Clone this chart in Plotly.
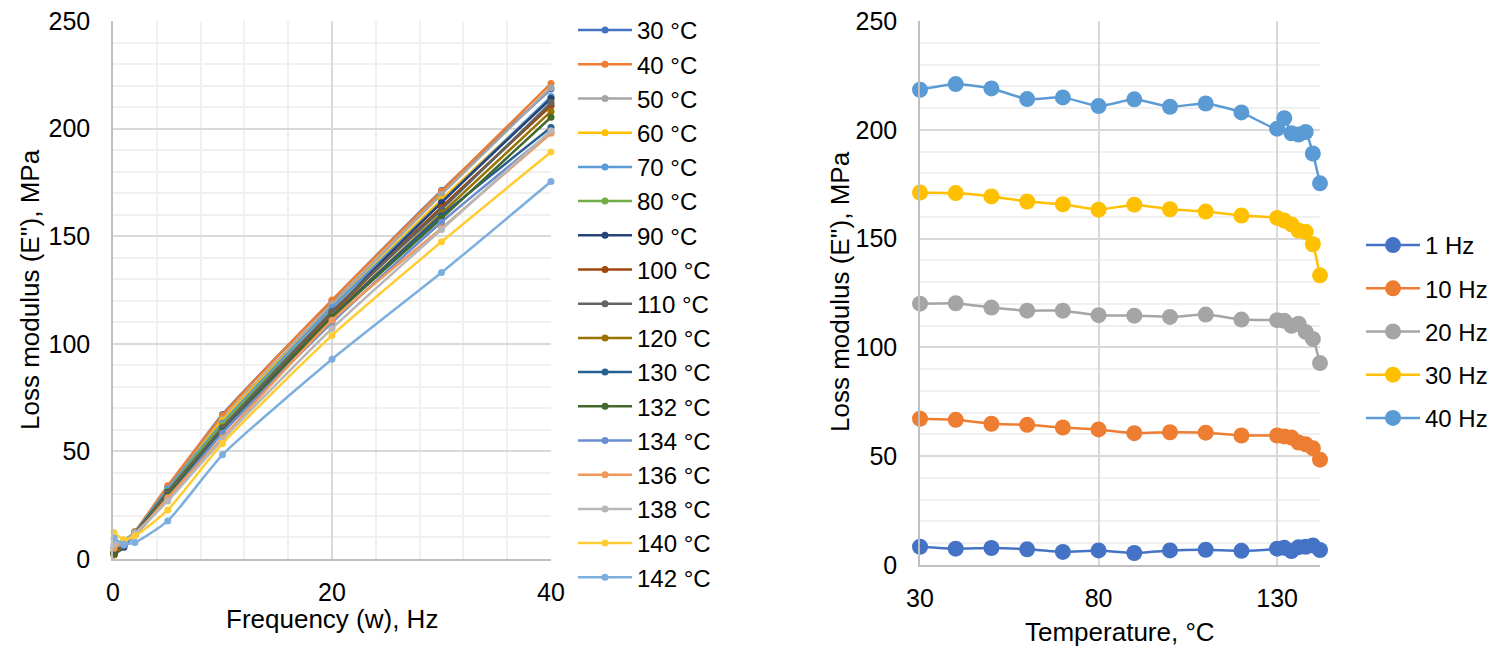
import plotly.graph_objects as go

# ---------------- data ----------------
temps = [30, 40, 50, 60, 70, 80, 90, 100, 110, 120, 130, 132, 134, 136, 138, 140, 142]
temp_labels = [f"{t} °C" for t in temps]
freqs = [0.1, 1, 2, 5, 10, 20, 30, 40]

# loss modulus (MPa) per frequency, one value per temperature
e_01hz = [3.0, 2.5, 4.0, 3.5, 5.0, 3.0, 2.0, 2.0, 2.5, 2.0, 3.0, 2.5, 6.0, 5.0, 7.0, 12.2, 9.6]
e_1hz = [8.4, 7.5, 7.8, 7.2, 6.0, 6.7, 5.5, 6.7, 7.0, 6.5, 7.5, 7.9, 6.4, 8.2, 8.4, 9.0, 6.9]
e_2hz = [12.5, 12.8, 12.3, 12.0, 12.2, 12.0, 11.8, 11.5, 11.7, 11.5, 11.3, 11.2, 11.0, 11.3, 12.0, 10.7, 7.7]
e_5hz = [33.0, 34.0, 32.5, 32.0, 32.5, 31.5, 31.0, 30.5, 30.5, 30.0, 29.5, 29.0, 28.0, 28.5, 27.0, 22.8, 17.7]
e_10hz = [67.2, 66.7, 64.9, 64.4, 63.2, 62.3, 60.6, 61.0, 60.8, 59.5, 59.5, 59.1, 58.6, 56.3, 55.5, 53.7, 48.4]
e_20hz = [120.1, 120.3, 118.3, 116.9, 116.9, 114.8, 114.6, 114.0, 115.1, 112.8, 112.5, 112.2, 109.9, 110.9, 107.1, 103.9, 92.8]
e_30hz = [171.2, 170.9, 169.4, 167.0, 165.8, 163.3, 165.6, 163.5, 162.4, 160.6, 159.5, 158.3, 156.5, 153.7, 153.1, 147.4, 133.1]
e_40hz = [218.4, 221.0, 219.0, 214.1, 214.9, 210.9, 214.0, 210.6, 212.1, 208.0, 200.5, 205.3, 198.4, 197.8, 199.0, 189.1, 175.4]

freq_series = [e_01hz, e_1hz, e_2hz, e_5hz, e_10hz, e_20hz, e_30hz, e_40hz]

right_labels = ["1 Hz", "10 Hz", "20 Hz", "30 Hz", "40 Hz"]
right_series = [e_1hz, e_10hz, e_20hz, e_30hz, e_40hz]

left_ticks_x = [0, 20, 40]
right_ticks_x = [30, 80, 130]
ticks_y = [0, 50, 100, 150, 200, 250]

left_colors = ["#4472C4", "#ED7D31", "#A5A5A5", "#FFC000", "#5B9BD5", "#70AD47",
               "#264478", "#9E480E", "#636363", "#997300", "#255E91", "#43682B",
               "#698ED0", "#F1975A", "#B7B7B7", "#FFCD33", "#7CAFDD"]
right_colors = ["#4472C4", "#ED7D31", "#A5A5A5", "#FFC000", "#5B9BD5"]

FONT = "Liberation Sans, Arial, sans-serif"
TICK_FS = 25
TITLE_FS = 26
LEG_FS = 24

fig = go.Figure()

for i, lab in enumerate(temp_labels):
    y = [s[i] for s in freq_series]
    fig.add_trace(go.Scatter(
        x=freqs, y=y, name=lab, mode="lines+markers",
        line=dict(color=left_colors[i], width=2.5, shape="spline", smoothing=0.6),
        marker=dict(color=left_colors[i], size=7),
        xaxis="x", yaxis="y", legend="legend", cliponaxis=False,
    ))

for j, lab in enumerate(right_labels):
    fig.add_trace(go.Scatter(
        x=temps, y=right_series[j], name=lab, mode="lines+markers",
        line=dict(color=right_colors[j], width=2.5, shape="spline", smoothing=0.5),
        marker=dict(color=right_colors[j], size=16),
        xaxis="x2", yaxis="y2", legend="legend2", legendgroup=lab, cliponaxis=False,
    ))

W, H = 1504, 648
OFF = 8  # page body margin
def px_x(p): return (p - OFF) / W
def px_y(p): return 1 - (p - OFF) / H

grid_major = "#d9d9d9"
grid_minor = "#f0f0f0"
axis_col = "#bfbfbf"

tickfont = dict(family=FONT, size=TICK_FS, color="#000000")

def xax(domain, rng, tickvals, anchor, minor=None):
    d = dict(
        domain=domain, range=rng, tickvals=tickvals, automargin=False,
        showgrid=True, gridcolor=grid_major, gridwidth=1.5,
        showline=True, linecolor=axis_col, linewidth=1.5,
        zeroline=False, ticks="", tickfont=tickfont, ticklabelstandoff=10,
        ticklabeloverflow="allow", anchor=anchor,
    )
    if minor:
        d["minor"] = minor
    return d

def yax(domain, anchor):
    return dict(
        domain=domain, range=[0, 250], tickvals=ticks_y, automargin=False,
        showgrid=True, gridcolor=grid_major, gridwidth=1.5,
        minor=dict(dtick=10, tick0=0, showgrid=True, gridcolor=grid_minor, gridwidth=1.5),
        showline=True, linecolor=axis_col, linewidth=1.5,
        zeroline=False, ticks="", tickfont=tickfont, ticklabelstandoff=16,
        ticklabeloverflow="allow", anchor=anchor,
    )

fig.update_layout(
    width=W, height=H,
    margin=dict(l=0, r=0, t=0, b=0),
    paper_bgcolor="white", plot_bgcolor="white",
    font=dict(family=FONT, size=TICK_FS, color="#000000"),
    xaxis=xax([px_x(113), px_x(551)], [0, 40], left_ticks_x, "y",
              minor=dict(dtick=4, tick0=0, showgrid=True, gridcolor=grid_minor, gridwidth=1.5)),
    yaxis=yax([px_y(559), px_y(21)], "x"),
    xaxis2=xax([px_x(920), px_x(1320)], [30, 142], right_ticks_x, "y2"),
    yaxis2=yax([px_y(565), px_y(21)], "x2"),
    legend=dict(
        x=px_x(573), y=1.0, xanchor="left", yanchor="top",
        font=dict(family=FONT, size=LEG_FS, color="#000000"),
        bgcolor="rgba(0,0,0,0)", itemwidth=54, maxheight=1.0,
    ),
    legend2=dict(
        x=px_x(1361), y=px_y(223), xanchor="left", yanchor="top",
        font=dict(family=FONT, size=LEG_FS, color="#000000"),
        bgcolor="rgba(0,0,0,0)", tracegroupgap=9, itemwidth=54,
    ),
    annotations=[
        dict(text="Frequency (w), Hz", x=px_x(332), y=px_y(619), xref="paper", yref="paper",
             showarrow=False, xanchor="center", yanchor="middle",
             font=dict(family=FONT, size=TITLE_FS, color="#000000")),
        dict(text="Loss modulus (E''), MPa", x=px_x(30), y=px_y(290), xref="paper", yref="paper",
             showarrow=False, xanchor="center", yanchor="middle", textangle=-90,
             font=dict(family=FONT, size=TITLE_FS, color="#000000")),
        dict(text="Temperature, °C", x=px_x(1120), y=px_y(632), xref="paper", yref="paper",
             showarrow=False, xanchor="center", yanchor="middle",
             font=dict(family=FONT, size=TITLE_FS, color="#000000")),
        dict(text="Loss modulus (E''), MPa", x=px_x(840), y=px_y(292), xref="paper", yref="paper",
             showarrow=False, xanchor="center", yanchor="middle", textangle=-90,
             font=dict(family=FONT, size=TITLE_FS, color="#000000")),
    ],
)

fig.write_html("out.html")
